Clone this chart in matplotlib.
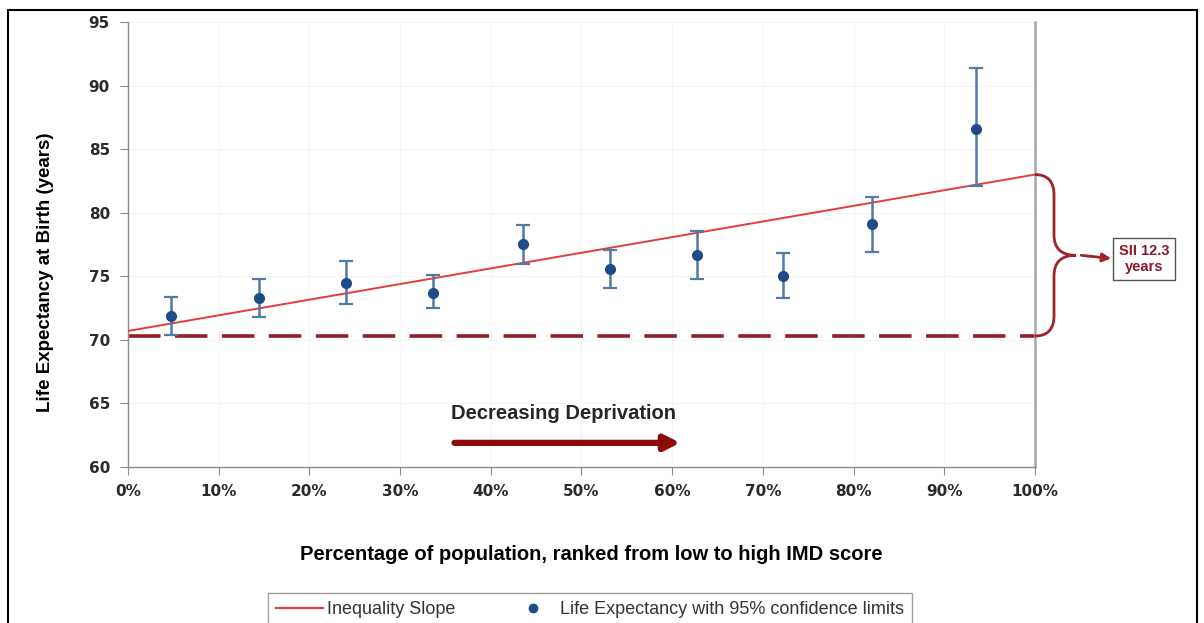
import matplotlib
matplotlib.use('Agg')
import matplotlib.pyplot as plt
from matplotlib.path import Path
from matplotlib.patches import PathPatch, Rectangle
from matplotlib.lines import Line2D
import numpy as np

plt.rcParams['font.family'] = ['Liberation Sans', 'DejaVu Sans']

# population percentile (midpoint of each decile) and life expectancy
pop_pct = [4.7, 14.4, 24.0, 33.6, 43.5, 53.1, 62.7, 72.2, 82.0, 93.5]
life_exp = [71.9, 73.3, 74.5, 73.7, 77.5, 75.6, 76.7, 75.0, 79.1, 86.6]
ci_low = [70.4, 71.8, 72.8, 72.5, 76.0, 74.1, 74.8, 73.3, 76.9, 82.1]
ci_high = [73.4, 74.8, 76.2, 75.1, 79.0, 77.1, 78.6, 76.8, 81.2, 91.4]

# slope index of inequality
sii_start = 70.7
sii = 12.3
baseline = 70.3

fig = plt.figure(figsize=(12.04, 6.23), dpi=100)
ax = fig.add_axes([0.1063, 0.2504, 0.7533, 0.7143])

ax.set_xlim(0, 100)
ax.set_ylim(60, 95)

# faint grid
ax.grid(True, color='#f3f3f3', linewidth=0.6)
ax.set_axisbelow(True)

# dashed baseline at the least deprived end
ax.plot([0, 100], [baseline, baseline], color='#9b1c20', linewidth=2.6,
        dashes=(9, 4), zorder=2)

# inequality slope
ax.plot([0, 100], [sii_start, sii_start + sii], color='#e23c3c', linewidth=1.4,
        zorder=3)

# points with 95% confidence limits
y = np.array(life_exp)
yerr = [y - np.array(ci_low), np.array(ci_high) - y]
ax.errorbar(pop_pct, life_exp, yerr=yerr, fmt='none', ecolor='#5379a6',
            elinewidth=1.8, capsize=5, capthick=1.6, zorder=4)
ax.plot(pop_pct, life_exp, 'o', color='#1f4b86', markersize=7, zorder=5)

# axes styling
for side in ['left', 'bottom', 'right']:
    ax.spines[side].set_color('#8c8c8c')
    ax.spines[side].set_linewidth(1.0)
ax.spines['top'].set_visible(False)
ax.spines['right'].set_linewidth(1.8)
ax.spines['right'].set_color('#a6a6a6')

ax.set_yticks(np.arange(60, 96, 5))
ax.set_xticks(np.arange(0, 101, 10))
ax.set_xticklabels([f'{v}%' for v in range(0, 101, 10)])
ax.tick_params(axis='both', direction='out', length=6, color='#8c8c8c')
ax.tick_params(axis='x', pad=6)
ax.tick_params(axis='y', pad=7)
for lab in ax.get_xticklabels() + ax.get_yticklabels():
    lab.set_family('DejaVu Sans')
    lab.set_fontweight('bold')
    lab.set_fontsize(11)
    lab.set_color('#2a2a2a')

ax.set_ylabel('Life Expectancy at Birth (years)', fontsize=13.5,
              fontweight='bold')
ax.yaxis.set_label_coords(-0.082, 0.438)
ax.set_xlabel('Percentage of population, ranked from low to high IMD score',
              fontsize=14.5, fontweight='bold')
ax.xaxis.set_label_coords(0.5105, -0.176)

# direction of deprivation
ax.text(48.0, 64.2, 'Decreasing Deprivation', ha='center', va='center',
        fontsize=14.5, fontweight='bold', color='#262626')
ax.annotate('', xy=(60.9, 61.9), xytext=(36.0, 61.9),
            arrowprops=dict(arrowstyle='-|>,head_length=0.9,head_width=0.45',
                            color='#8b0a0a', linewidth=4.5,
                            shrinkA=0, shrinkB=0))

# curly brace spanning the SII
top = sii_start + sii
bot = baseline
mid = (top + bot) / 2
x0, x1, x2 = 100.0, 102.1, 104.5
r = 1.6
verts = [
    (x0, top), (x1, top), (x1, top - r),
    (x1, mid + r), (x1, mid), (x2, mid),
    (x1, mid), (x1, mid - r),
    (x1, bot + r), (x1, bot), (x0, bot),
]
codes = [Path.MOVETO, Path.CURVE3, Path.CURVE3,
         Path.LINETO, Path.CURVE3, Path.CURVE3,
         Path.CURVE3, Path.CURVE3,
         Path.LINETO, Path.CURVE3, Path.CURVE3]
ax.add_patch(PathPatch(Path(verts, codes), facecolor='none', edgecolor='#a0222a',
                       linewidth=2.0, clip_on=False, zorder=6))

ax.annotate('', xy=(108.4, mid - 0.25), xytext=(105.1, mid),
            arrowprops=dict(arrowstyle='-|>,head_length=0.5,head_width=0.25',
                            color='#a0222a', linewidth=2.0,
                            shrinkA=0, shrinkB=0),
            annotation_clip=False)
ax.text(112.0, mid - 0.3, f'SII {sii}\nyears', ha='center', va='center',
        fontsize=10.5, fontweight='bold', color='#8b1a2a', linespacing=1.15,
        clip_on=False,
        bbox=dict(boxstyle='square,pad=0.4', facecolor='white',
                  edgecolor='#555555', linewidth=1.0))

# legend
handles = [
    Line2D([], [], color='#e23c3c', linewidth=1.6),
    Line2D([], [], marker='o', linestyle='none', color='#1f4b86', markersize=6),
]
fig.legend(handles, ['Inequality Slope', 'Life Expectancy with 95% confidence limits'],
           loc='lower center', bbox_to_anchor=(0.49, -0.02), ncol=2,
           fontsize=13, frameon=True, fancybox=False, edgecolor='#888888',
           labelcolor='#333333', handlelength=2.6, handletextpad=0.2,
           columnspacing=3.0, borderpad=0.45)

# outer frame
fig.patches.append(Rectangle((0.007, -0.02), 0.987, 1.004, transform=fig.transFigure,
                             fill=False, edgecolor='black', linewidth=1.5))

fig.savefig('out.png', dpi=100)
plt.close()
